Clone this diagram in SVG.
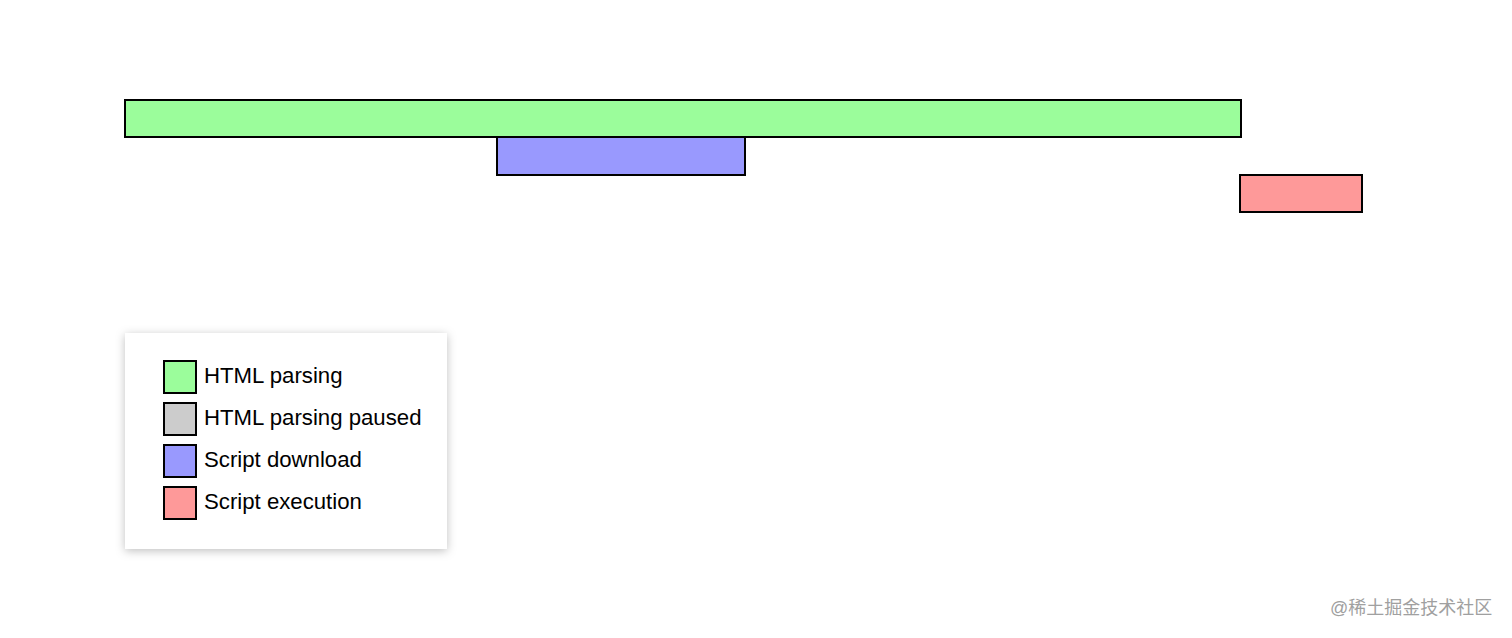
<svg xmlns="http://www.w3.org/2000/svg" width="1512" height="638" viewBox="0 0 1512 638">
<style>
.bar{stroke:#000;stroke-width:2}
.sw{stroke:#000;stroke-width:2}
.lbl{font-family:"Liberation Sans",Arial,sans-serif;font-size:22.2px;fill:#000}
.wm{font-family:"Liberation Sans","Noto Sans CJK SC",sans-serif;font-size:18px;fill:#a0a0a0}
</style>
<defs>
<filter id="shadow" x="-20%" y="-20%" width="140%" height="140%">
<feDropShadow dx="0" dy="2" stdDeviation="5" flood-color="#000" flood-opacity="0.25"/>
</filter>
</defs>
<rect width="1512" height="638" fill="#fff"/>
<g id="html-parsing"><rect class="bar" x="125" y="100" width="1116" height="37" fill="#9bfd9b"/></g>
<g id="script-download"><rect class="bar" x="497" y="137" width="248" height="38" fill="#9999fe"/></g>
<g id="script-execution"><rect class="bar" x="1240" y="175" width="122" height="37" fill="#fe9999"/></g>
<g id="legend">
<rect x="125" y="333" width="322" height="216" fill="#fff" filter="url(#shadow)"/>
<rect class="sw" x="164" y="361" width="32" height="32" fill="#9bfd9b"/>
<text class="lbl" x="204" y="383">HTML parsing</text>
<rect class="sw" x="164" y="403" width="32" height="32" fill="#cccccc"/>
<text class="lbl" x="204" y="425">HTML parsing paused</text>
<rect class="sw" x="164" y="445" width="32" height="32" fill="#9999fe"/>
<text class="lbl" x="204" y="467">Script download</text>
<rect class="sw" x="164" y="487" width="32" height="32" fill="#fe9999"/>
<text class="lbl" x="204" y="509">Script execution</text>
</g>
<text class="wm" x="1330" y="614">@稀土掘金技术社区</text>
</svg>
